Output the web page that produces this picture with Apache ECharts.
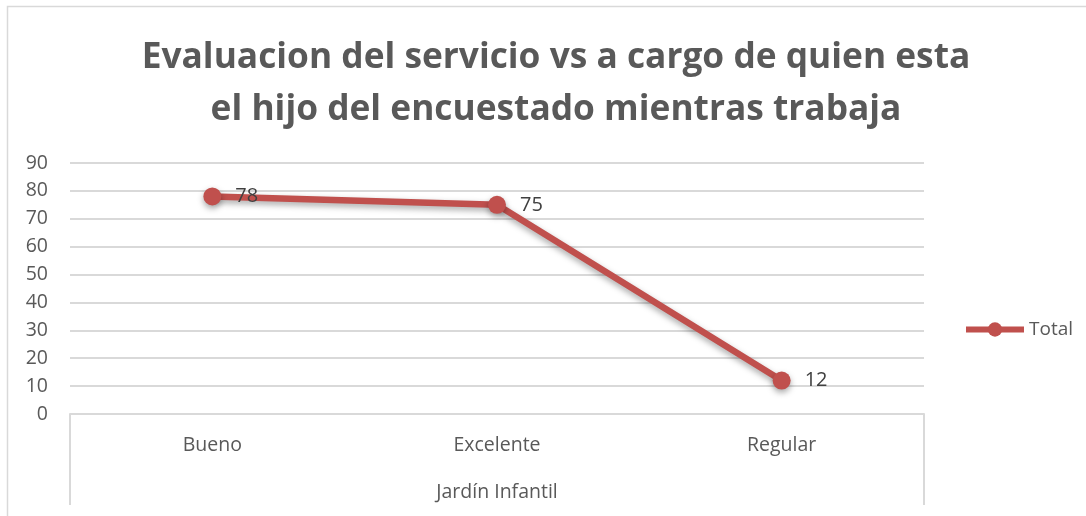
<!DOCTYPE html>
<html lang="es">
<head>
    <meta charset="UTF-8">
    <title>Evaluacion del servicio</title>
    <script src="https://cdn.jsdelivr.net/npm/echarts@6.0.0/dist/echarts.min.js"></script>
    <style>
        html, body { margin: 0; padding: 0; background: #fff; }
        #chart { width: 1086px; height: 516px; }
    </style>
</head>
<body>
    <div id="chart"></div>
    <script>
        // datos del grafico
        const categorias = ['Bueno', 'Excelente', 'Regular'];
        const grupo = ['Jardín Infantil'];
        const valores = [78, 75, 12];
        const nombreSerie = 'Total';

        const rojo = '#C0504D';
        const gris = '#595959';
        const fuente = '"Open Sans", "Noto Sans", sans-serif';

        const chart = echarts.init(document.getElementById('chart'));

        chart.setOption({
            animation: false,
            textStyle: { fontFamily: fuente },
            title: {
                text: 'Evaluacion del servicio vs a cargo de quien esta\nel hijo del encuestado mientras trabaja',
                left: 551,
                top: 27,
                textAlign: 'center',
                textStyle: {
                    fontFamily: fuente,
                    fontSize: 35.3,
                    fontWeight: 'bold',
                    color: gris,
                    lineHeight: 52,
                    align: 'center'
                }
            },
            legend: {
                data: [nombreSerie],
                left: 958,
                top: 315,
                itemWidth: 58,
                itemHeight: 18,
                lineStyle: { width: 6 },
                textStyle: { fontSize: 19, color: gris }
            },
            grid: { left: 70, right: 162, top: 163, bottom: 102 },
            xAxis: [{
                type: 'category',
                data: categorias,
                boundaryGap: true,
                axisLine: { show: true, lineStyle: { color: '#d9d9d9', width: 2 } },
                axisTick: { show: false },
                axisLabel: { fontSize: 19.5, color: gris, margin: 21 }
            }, {
                type: 'category',
                data: grupo,
                position: 'bottom',
                boundaryGap: true,
                axisLine: { show: false },
                axisTick: { show: true, length: 91, lineStyle: { color: '#d9d9d9', width: 2 } },
                axisLabel: { fontSize: 19.5, color: gris, margin: 68 }
            }],
            yAxis: {
                type: 'value',
                min: 0,
                max: 90,
                interval: 10,
                axisLine: { show: false },
                axisTick: { show: false },
                axisLabel: { fontSize: 19.5, color: gris, margin: 22 },
                splitLine: { lineStyle: { color: '#d9d9d9', width: 2 } }
            },
            series: [{
                name: nombreSerie,
                type: 'line',
                xAxisIndex: 0,
                data: valores,
                symbol: 'circle',
                symbolSize: 18,
                itemStyle: {
                    color: rojo,
                    shadowColor: 'rgba(0,0,0,0.35)',
                    shadowBlur: 6,
                    shadowOffsetY: 3
                },
                lineStyle: {
                    color: rojo,
                    width: 6.5,
                    shadowColor: 'rgba(0,0,0,0.35)',
                    shadowBlur: 6,
                    shadowOffsetY: 3
                },
                label: {
                    show: true,
                    position: 'right',
                    distance: 14,
                    fontSize: 20,
                    color: '#404040'
                }
            }],
            graphic: [{
                type: 'rect',
                shape: { x: 7.5, y: 6.5, width: 1200, height: 700 },
                style: { fill: 'none', stroke: '#d9d9d9', lineWidth: 1.5 },
                silent: true
            }]
        });
    </script>
</body>
</html>
